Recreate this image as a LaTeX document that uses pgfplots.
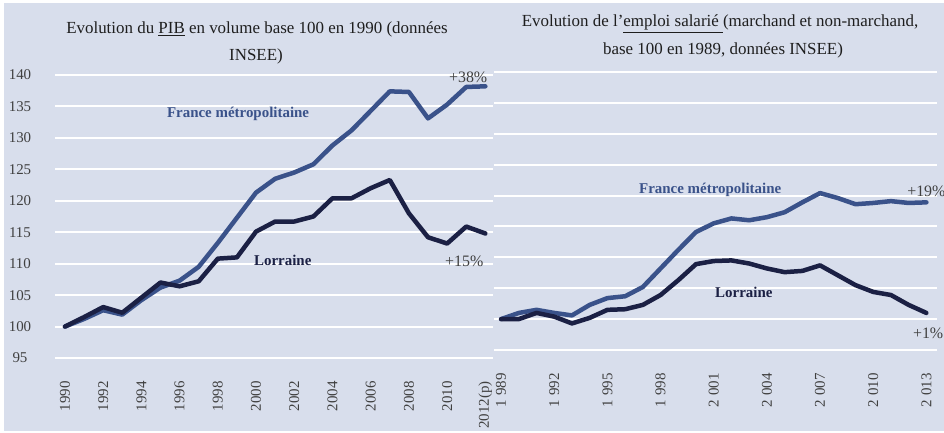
\documentclass[border=0pt]{standalone}
\usepackage{fontspec}
\setmainfont{Liberation Serif}
\usepackage{pgfplots}
\pgfplotsset{compat=1.18}
\definecolor{bg}{RGB}{216,222,236}
\definecolor{fr}{RGB}{58,82,138}
\definecolor{lo}{RGB}{27,32,68}
\definecolor{txt}{RGB}{64,64,64}
\definecolor{ttl}{RGB}{30,30,30}
\pgfplotsset{mystyle/.style={
  scale only axis,
  axis line style={draw=none},
  major tick length=0pt,
  ymin=95, ymax=140, ytick={95,100,...,140},
  ymajorgrids, grid style={white, line width=2bp},
  clip=false,
  tick label style={font=\fontsize{15}{15}\selectfont, text=txt},
  xticklabel style={rotate=90, anchor=east}, xticklabel shift=20bp,
  every axis plot/.append style={line width=4.5bp, line cap=round, line join=round, mark=none},
  /pgf/number format/assume math mode=true,
}}
\begin{document}
\begin{tikzpicture}
\path[use as bounding box] (0,0) rectangle (944bp,433bp);
\clip (0,0) rectangle (944bp,433bp);
\fill[white] (0,0) rectangle (944bp,433bp);
\fill[bg] (4bp,2bp) rectangle (944bp,430bp);
\node[anchor=base, text=ttl, font=\fontsize{17}{17}\selectfont] at (257bp,399bp) {Evolution du \underline{PIB} en volume base 100 en 1990 (données};
\node[anchor=base, text=ttl, font=\fontsize{17}{17}\selectfont] at (256bp,372bp) {INSEE)};
\node[anchor=base, text=ttl, font=\fontsize{17}{17}\selectfont] at (720bp,406bp) {Evolution de l'\underline{emploi salarié\ }(marchand et non-marchand,};
\node[anchor=base, text=ttl, font=\fontsize{17}{17}\selectfont] at (723bp,378bp) {base 100 en 1989, données INSEE)};
\begin{axis}[mystyle, at={(55bp,75bp)}, anchor=south west, width=438bp, height=283bp,
  xmin=-0.52, xmax=22.4, xtick={0,2,...,22},
  xticklabels={1990,1992,1994,1996,1998,2000,2002,2004,2006,2008,2010,2012(p)},
  yticklabel style={anchor=center, xshift=-35bp}]
\addplot[fr] coordinates {(0,100) (1,101.2) (2,102.6) (3,101.9) (4,104.2) (5,106.2) (6,107.3) (7,109.5) (8,113.3) (9,117.3) (10,121.3) (11,123.5) (12,124.5) (13,125.8) (14,128.8) (15,131.2) (16,134.3) (17,137.4) (18,137.3) (19,133.1) (20,135.3) (21,138.1) (22,138.2)};
\addplot[lo] coordinates {(0,100) (1,101.5) (2,103.1) (3,102.2) (4,104.6) (5,107.0) (6,106.4) (7,107.2) (8,110.8) (9,111.0) (10,115.1) (11,116.7) (12,116.7) (13,117.5) (14,120.4) (15,120.4) (16,122.0) (17,123.3) (18,118.0) (19,114.2) (20,113.2) (21,115.9) (22,114.8)};
\node[text=fr, font=\fontsize{15}{15}\selectfont\bfseries] at (axis cs:9.06,133.8) {France métropolitaine};
\node[text=lo, font=\fontsize{15}{15}\selectfont\bfseries] at (axis cs:11.4,110.5) {Lorraine};
\node[text=txt, font=\fontsize{16}{16}\selectfont] at (axis cs:21.1,139.6) {+38\%};
\node[text=txt, font=\fontsize{16}{16}\selectfont] at (axis cs:20.9,110.35) {+15\%};
\end{axis}
\begin{axis}[mystyle, at={(494bp,83bp)}, anchor=south west, width=443bp, height=278bp,
  xmin=-0.4, xmax=24.6, xtick={0,3,...,24},
  xticklabels={1 989,1 992,1 995,1 998,2 001,2 004,2 007,2 010,2 013},
  yticklabels={}]
\addplot[fr] coordinates {(0,100) (1,101.0) (2,101.5) (3,101.0) (4,100.6) (5,102.3) (6,103.4) (7,103.7) (8,105.2) (9,108.2) (10,111.2) (11,114.1) (12,115.5) (13,116.3) (14,116.0) (15,116.5) (16,117.3) (17,118.9) (18,120.4) (19,119.6) (20,118.6) (21,118.8) (22,119.1) (23,118.8) (24,118.9)};
\addplot[lo] coordinates {(0,100) (1,100) (2,101) (3,100.4) (4,99.3) (5,100.2) (6,101.5) (7,101.6) (8,102.3) (9,103.9) (10,106.3) (11,108.9) (12,109.4) (13,109.5) (14,109.0) (15,108.2) (16,107.6) (17,107.8) (18,108.7) (19,107.1) (20,105.5) (21,104.4) (22,103.9) (23,102.3) (24,101.0)};
\node[text=fr, font=\fontsize{15}{15}\selectfont\bfseries] at (axis cs:11.8,120.9) {France métropolitaine};
\node[text=lo, font=\fontsize{15}{15}\selectfont\bfseries] at (axis cs:13.7,104.4) {Lorraine};
\node[text=txt, font=\fontsize{16}{16}\selectfont] at (axis cs:24.0,120.7) {+19\%};
\node[text=txt, font=\fontsize{16}{16}\selectfont] at (axis cs:24.1,97.7) {+1\%};
\end{axis}
\end{tikzpicture}
\end{document}
